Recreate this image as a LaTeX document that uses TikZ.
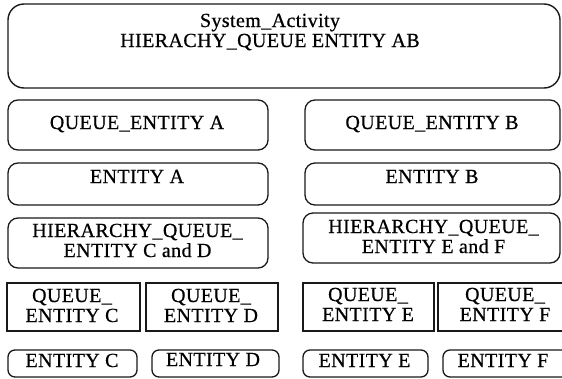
\documentclass[tikz,border=0pt]{standalone}
\usepackage{fontspec}
\setmainfont{Liberation Serif}[LetterSpace=2,FakeBold=0.6]
\begin{document}
\begin{tikzpicture}[x=1pt,y=-1pt,
  rbox/.style={draw=black!90,line width=1.3pt,rounded corners=10pt},
  bigbox/.style={draw=black!90,line width=1.4pt,rounded corners=16pt},
  sbox/.style={draw=black!90,line width=1.3pt},
  lbl/.style={anchor=base,inner sep=0pt,font=\fontsize{20}{20}\selectfont,text=black}]
\useasboundingbox (0,0) rectangle (562,378);
\begin{scope}
\clip (0,0) rectangle (562,378);
% boxes
\draw[bigbox] (8,4) rectangle (560,88);
\draw[rbox] (8,100) rectangle (268,150);
\draw[rbox] (305,100) rectangle (560,150);
\draw[rbox] (8,163) rectangle (268,205);
\draw[rbox] (305,163) rectangle (560,205);
\draw[rbox] (8,218) rectangle (268,268);
\draw[rbox] (303,213) rectangle (560,263);
\draw[sbox] (7,283) rectangle (140,331);
\draw[sbox] (146,283) rectangle (278,331);
\draw[sbox] (303,283) rectangle (434,331);
\draw[sbox] (438,283) rectangle (570,331);
\draw[rbox,rounded corners=7pt] (8,350) rectangle (137,377);
\draw[rbox,rounded corners=7pt] (152,350) rectangle (279,377);
\draw[rbox,rounded corners=7pt] (303,350) rectangle (428,377);
\draw[rbox,rounded corners=7pt] (443,350) rectangle (575,377);
\end{scope}
% labels
\node[lbl] (t1) at (270,27) {System\_Activity};
\node[lbl] (t2) at (270,47) {HIERACHY\_QUEUE ENTITY AB};
\node[lbl] (qa) at (137,129) {QUEUE\_ENTITY A};
\node[lbl] (qb) at (432,129) {QUEUE\_ENTITY B};
\node[lbl] (ea) at (137,183) {ENTITY A};
\node[lbl] (eb) at (432,183) {ENTITY B};
\node[lbl] (hcd1) at (137.5,237) {HIERARCHY\_QUEUE\_};
\node[lbl] (hcd2) at (137.5,257) {ENTITY C and D};
\node[lbl] (hef1) at (433.5,233) {HIERARCHY\_QUEUE\_};
\node[lbl] (hef2) at (433.5,253) {ENTITY E and F};
\node[lbl] (qc1) at (72,302) {QUEUE\_};
\node[lbl] (qc2) at (72,322) {ENTITY C};
\node[lbl] (qd1) at (211,302) {QUEUE\_};
\node[lbl] (qd2) at (211,322) {ENTITY D};
\node[lbl] (qe1) at (368,301) {QUEUE\_};
\node[lbl] (qe2) at (368,321) {ENTITY E};
\node[lbl] (qf1) at (505,301) {QUEUE\_};
\node[lbl] (qf2) at (505,321) {ENTITY F};
\node[lbl] (ec) at (72,367) {ENTITY C};
\node[lbl] (ed) at (213,366) {ENTITY D};
\node[lbl] (ee) at (364.5,367) {ENTITY E};
\node[lbl] (ef) at (503,367) {ENTITY F};
\end{tikzpicture}
\end{document}
